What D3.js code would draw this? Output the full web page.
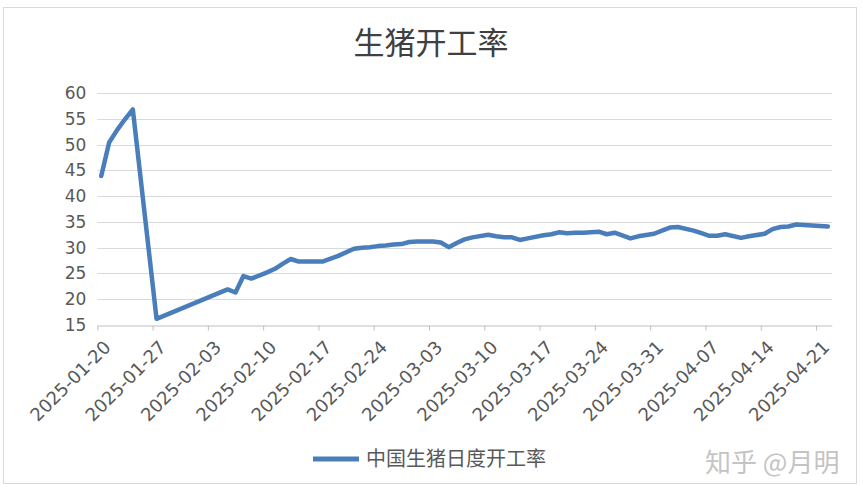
<!DOCTYPE html>
<html>
<head>
<meta charset="utf-8">
<script src="https://cdn.jsdelivr.net/npm/d3@7"></script>
<style>
  html, body { margin: 0; padding: 0; background: #fff; }
  svg { display: block; }
</style>
</head>
<body>
<svg id="chart" width="863" height="485"></svg>
<script>
const title = "生猪开工率";
const seriesName = "中国生猪日度开工率";
const watermark = "知乎 @月明";
const dates = ["2025-01-20","2025-01-21","2025-01-22","2025-01-23","2025-01-24","2025-01-27",
  "2025-02-05","2025-02-06","2025-02-07","2025-02-08","2025-02-10","2025-02-11","2025-02-12","2025-02-13","2025-02-14",
  "2025-02-17","2025-02-19","2025-02-21","2025-02-22","2025-02-23","2025-02-24","2025-02-25","2025-02-26","2025-02-27","2025-02-28","2025-03-01",
  "2025-03-03","2025-03-04","2025-03-05","2025-03-06","2025-03-07","2025-03-08",
  "2025-03-10","2025-03-11","2025-03-12","2025-03-13","2025-03-14","2025-03-15",
  "2025-03-17","2025-03-18","2025-03-19","2025-03-20","2025-03-21","2025-03-22",
  "2025-03-24","2025-03-25","2025-03-26","2025-03-28","2025-03-29",
  "2025-03-31","2025-04-01","2025-04-02","2025-04-03","2025-04-05","2025-04-06",
  "2025-04-07","2025-04-08","2025-04-09","2025-04-11","2025-04-12",
  "2025-04-14","2025-04-15","2025-04-16","2025-04-17","2025-04-18","2025-04-20","2025-04-22"];
const values = [43.9,50.4,52.8,54.9,56.8,16.2,
  21.9,21.3,24.5,24.0,25.2,25.9,26.9,27.8,27.3,
  27.3,28.4,29.8,30.0,30.1,30.3,30.4,30.6,30.7,31.1,31.2,
  31.2,31.0,30.1,30.9,31.6,32.0,
  32.5,32.2,32.0,32.0,31.5,31.8,
  32.4,32.6,33.0,32.8,32.9,32.9,
  33.1,32.6,32.9,31.8,32.2,
  32.7,33.3,33.9,34.0,33.3,32.8,
  32.3,32.3,32.6,31.9,32.2,
  32.7,33.6,34.0,34.1,34.5,34.3,34.1];
const xTickLabels = ["2025-01-20","2025-01-27","2025-02-03","2025-02-10","2025-02-17","2025-02-24","2025-03-03",
  "2025-03-10","2025-03-17","2025-03-24","2025-03-31","2025-04-07","2025-04-14","2025-04-21"];
const yTicks = [15,20,25,30,35,40,45,50,55,60];
const xDomain = ["2025-01-20","2025-04-23"];

const parse = d3.utcParse("%Y-%m-%d");
const fmt = d3.utcFormat("%Y-%m-%d");
const svg = d3.select("#chart");

// frame
svg.append("rect").attr("x", 3.5).attr("y", 7.5).attr("width", 853).attr("height", 476)
  .attr("fill", "#fff").attr("stroke", "#d9d9d9").attr("stroke-width", 1);

const x = d3.scaleUtc().domain(xDomain.map(parse)).range([97.3, 831.8]);
const y = d3.scaleLinear().domain([15, 60]).range([325, 93]);
const halfDay = 12 * 3600 * 1000;

// gridlines
svg.append("g").selectAll("line").data(yTicks.filter(v => v > 15)).join("line")
  .attr("x1", x.range()[0]).attr("x2", x.range()[1])
  .attr("y1", d => Math.round(y(d)) + 0.5).attr("y2", d => Math.round(y(d)) + 0.5)
  .attr("stroke", "#d9d9d9").attr("stroke-width", 1);

// y axis labels
const yAxis = d3.axisLeft(y).tickValues(yTicks).tickSize(0).tickPadding(11);
const gy = svg.append("g").attr("transform", `translate(${x.range()[0]},0)`).call(yAxis);
gy.select(".domain").remove();
gy.selectAll("text").attr("font-family", "DejaVu Sans, sans-serif").attr("font-size", 17).attr("fill", "#595959");

// x axis
const xAxis = d3.axisBottom(x).tickValues(xTickLabels.map(parse)).tickFormat(fmt).tickSize(5).tickSizeOuter(0);
const gx = svg.append("g").attr("transform", `translate(0,${Math.round(y(15)) + 0.5})`).call(xAxis);
gx.select(".domain").attr("stroke", "#bfbfbf");
gx.selectAll(".tick line").attr("stroke", "#bfbfbf");
gx.selectAll("text")
  .attr("font-family", "DejaVu Sans, sans-serif").attr("font-size", 18).attr("fill", "#595959")
  .attr("text-anchor", "end")
  .attr("dy", 0).attr("y", 0)
  .attr("transform", "translate(14,23) rotate(-45)");

// line
const data = dates.map((d, i) => ({ date: parse(d), value: values[i] }));
const line = d3.line().x(d => x(new Date(d.date.getTime() + halfDay))).y(d => y(d.value));
svg.append("path").datum(data).attr("d", line)
  .attr("fill", "none").attr("stroke", "#4a7ebb").attr("stroke-width", 4.5)
  .attr("stroke-linejoin", "round").attr("stroke-linecap", "round");

// title
svg.append("text").attr("x", 431).attr("y", 54).attr("text-anchor", "middle")
  .attr("font-family", "Noto Sans CJK SC, sans-serif").attr("font-size", 31).attr("fill", "#404040")
  .text(title);

// legend
svg.append("line").attr("x1", 313).attr("x2", 359).attr("y1", 459).attr("y2", 459)
  .attr("stroke", "#4a7ebb").attr("stroke-width", 5);
svg.append("text").attr("x", 366).attr("y", 466)
  .attr("font-family", "Noto Sans CJK SC, sans-serif").attr("font-size", 20).attr("fill", "#595959")
  .text(seriesName);

// watermark
svg.append("text").attr("x", 705).attr("y", 472)
  .attr("font-family", "Noto Sans CJK SC, sans-serif").attr("font-size", 26).attr("fill", "#c4c4c4")
  .text(watermark);
</script>
</body>
</html>
